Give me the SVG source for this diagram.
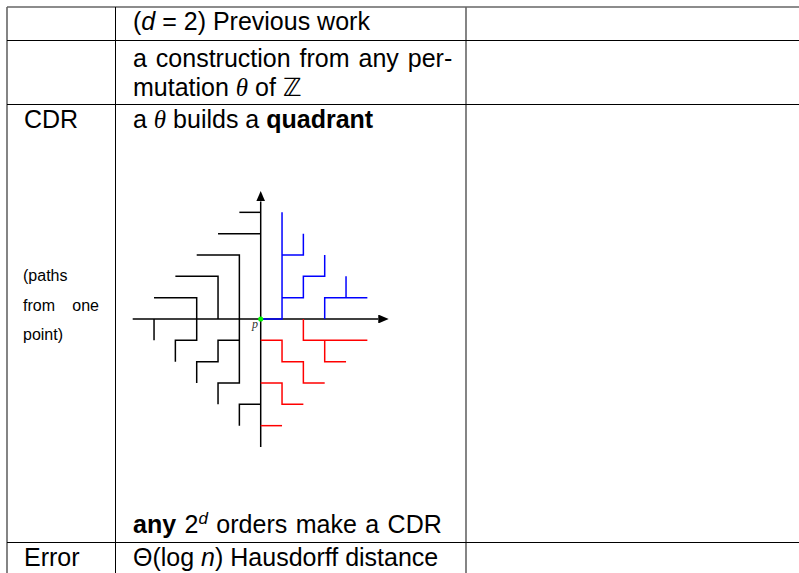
<svg xmlns="http://www.w3.org/2000/svg" width="799" height="573" viewBox="0 0 799 573">
  <defs>
    <style>
      .rule { stroke: #000; stroke-width: 1; fill: none; }
      .rule-soft { stroke: #666; stroke-width: 1.6; fill: none; }
      .txt { font-family: "Liberation Sans", Arial, sans-serif; font-size: 25px; fill: #000; }
      .small { font-family: "Liberation Sans", Arial, sans-serif; font-size: 16px; fill: #000; }
      .mi { font-style: italic; }
      .greek { font-family: "Liberation Serif", "DejaVu Serif", serif; font-style: italic; }
      .bb { font-family: "DejaVu Sans", sans-serif; }
      .bold { font-weight: bold; }
      .blk { stroke: #000; stroke-width: 0.07; fill: none; }
      .blu { stroke: #0000ff; stroke-width: 0.07; fill: none; }
      .rd { stroke: #ff0000; stroke-width: 0.07; fill: none; }
    </style>
    <marker id="arrow" viewBox="0 -3 7 6" refX="0" refY="0" markerWidth="7" markerHeight="6" markerUnits="strokeWidth" orient="auto">
      <path d="M0,-3 L7,0 L0,3 z" fill="#000"/>
    </marker>
  </defs>

  <rect width="799" height="573" fill="#fff"/>

  <!-- table rules -->
  <g id="grid">
    <line class="rule-soft" x1="7" y1="7" x2="799" y2="7"/>
    <line class="rule-soft" x1="7" y1="7" x2="7" y2="573"/>
    <line class="rule" x1="115.5" y1="7" x2="115.5" y2="573"/>
    <line class="rule-soft" x1="466" y1="7" x2="466" y2="573"/>
    <line class="rule" x1="7" y1="40.5" x2="799" y2="40.5"/>
    <line class="rule" x1="7" y1="104.5" x2="799" y2="104.5"/>
    <line class="rule" x1="7" y1="542.5" x2="799" y2="542.5"/>
  </g>

  <!-- header row -->
  <g id="row-header">
    <text class="txt" x="133" y="30">(<tspan class="mi">d</tspan> = 2) Previous work</text>
  </g>

  <!-- construction row -->
  <g id="row-construction">
    <text class="txt" x="133" y="67" word-spacing="2">a construction from any per-</text>
    <text class="txt" x="133" y="96">mutation <tspan class="greek">θ</tspan> of <tspan class="bb">ℤ</tspan></text>
  </g>

  <!-- CDR row -->
  <g id="row-cdr">
    <text class="txt" x="24" y="128">CDR</text>
    <text class="txt" x="133" y="128">a <tspan class="greek">θ</tspan> builds a <tspan class="bold">quadrant</tspan></text>
    <text class="small" x="23" y="281">(paths</text>
    <text class="small" x="23" y="311">from</text>
    <text class="small" x="99" y="311" text-anchor="end">one</text>
    <text class="small" x="23" y="340">point)</text>
    <text class="txt" x="133" y="533" word-spacing="1.5"><tspan class="bold">any</tspan> 2<tspan class="mi" font-size="17" dy="-9">d</tspan><tspan dy="9"> orders make a CDR</tspan></text>
  </g>

  <!-- quadrant figure, unit grid centred on p -->
  <g id="quadrant-figure" transform="translate(260.7 319) scale(21.333 -21.333)">
    <g id="connectors">
      <line class="blk" x1="-6" y1="0" x2="5.51" y2="0" marker-end="url(#arrow)"/>
      <line class="blk" x1="0" y1="-6" x2="0" y2="5.51" marker-end="url(#arrow)"/>
      <path class="blk" d="M-5,1 H-3 V-1 H-4 V-2"/>
      <path class="blk" d="M-4,2 H-2 V0"/>
      <path class="blk" d="M-1,-1 H-2 V-2 H-3 V-3"/>
      <path class="blk" d="M-3,3 H-1 V-3 H-2 V-4"/>
      <path class="blk" d="M-2,4 H0"/>
      <path class="blk" d="M-1,5 H0"/>
      <path class="blk" d="M0,-4 H-1 V-5"/>
      <path class="blk" d="M-5,0 V-1"/>

      <path class="blu" d="M0,0 H1 V5"/>
      <path class="blu" d="M1,1 H2 V2 H3 V3"/>
      <path class="blu" d="M1,3 H2 V4"/>
      <path class="blu" d="M3,0 V1 H5"/>
      <path class="blu" d="M4,1 V2"/>

      <path class="rd" d="M2,0 V-1 H5"/>
      <path class="rd" d="M3,-1 V-2 H4"/>
      <path class="rd" d="M0,-1 H1 V-2 H2 V-3 H3"/>
      <path class="rd" d="M0,-3 H1 V-4 H2"/>
      <path class="rd" d="M0,-5 H1"/>
    </g>
    <g id="node-p">
      <circle cx="0" cy="0" r="0.12" fill="#00ff00"/>
    </g>
  </g>
  <text x="252" y="328" font-family="'Liberation Serif', serif" font-style="italic" font-size="12" fill="#333">p</text>

  <!-- error row -->
  <g id="row-error">
    <text class="txt" x="24" y="566">Error</text>
    <text class="txt" x="133" y="566">Θ(log <tspan class="mi">n</tspan>) Hausdorff distance</text>
  </g>
</svg>
